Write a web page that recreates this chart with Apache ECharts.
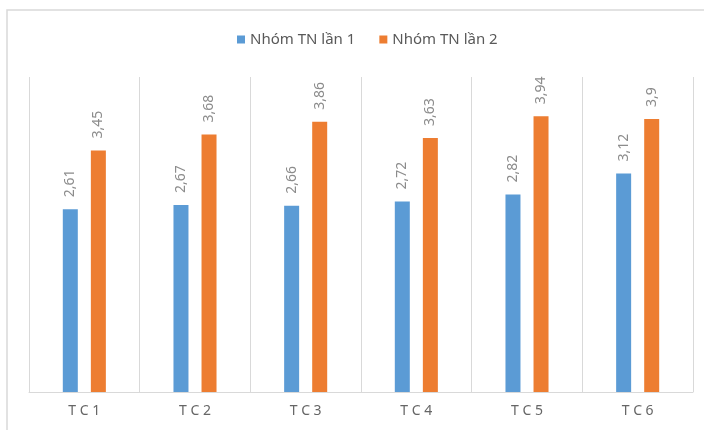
<!DOCTYPE html>
<html>
<head>
<meta charset="utf-8">
<script src="https://cdn.jsdelivr.net/npm/echarts@6/dist/echarts.min.js"></script>
<style>
  html, body { margin: 0; padding: 0; background: #fff; }
  #chart { width: 704px; height: 430px; }
</style>
</head>
<body>
<div id="chart"></div>
<script>
const categories = ['T C 1', 'T C 2', 'T C 3', 'T C 4', 'T C 5', 'T C 6'];
const seriesNames = ['Nhóm TN lần 1', 'Nhóm TN lần 2'];
const group1 = [2.61, 2.67, 2.66, 2.72, 2.82, 3.12];
const group2 = [3.45, 3.68, 3.86, 3.63, 3.94, 3.9];

const FONT = 'Noto Sans, sans-serif';

// comma decimal, as in the source
const fmt = (p) => String(p.value).replace('.', ',');

const makeSeries = (name, data, color) => ({
  type: 'bar',
  name,
  data,
  barWidth: 15,
  barGap: '87%',
  itemStyle: { color },
  label: {
    show: true,
    position: 'top',
    rotate: 90,
    align: 'left',
    verticalAlign: 'middle',
    distance: 12,
    color: '#8c8c8c',
    fontSize: 14,
    fontFamily: FONT,
    formatter: fmt,
  },
});

const chart = echarts.init(document.getElementById('chart'), null, { renderer: 'canvas' });

chart.setOption({
  animation: false,
  graphic: [{
    type: 'rect',
    shape: { x: 7, y: 10, width: 740, height: 460 },
    style: { fill: 'none', stroke: '#d9d9d9', lineWidth: 1.5 },
    silent: true,
  }],
  legend: {
    top: 27,
    left: 232,
    itemWidth: 8,
    itemHeight: 8,
    itemGap: 24,
    icon: 'rect',
    textStyle: { color: '#595959', fontSize: 15, fontFamily: FONT },
  },
  grid: { left: 29, right: 11, top: 77, bottom: 38 },
  xAxis: {
    type: 'category',
    data: categories,
    axisTick: { show: false },
    axisLine: { lineStyle: { color: '#d9d9d9', width: 1 } },
    splitLine: { show: true, lineStyle: { color: '#d9d9d9', width: 1 } },
    axisLabel: { color: '#666666', fontSize: 14, fontFamily: FONT, margin: 12 },
  },
  yAxis: {
    type: 'value',
    min: 0,
    max: 4.5,
    interval: 0.5,
    show: false,
    splitLine: { show: false },
  },
  series: [
    makeSeries(seriesNames[0], group1, '#5b9bd5'),
    makeSeries(seriesNames[1], group2, '#ed7d31'),
  ],
});
</script>
</body>
</html>
